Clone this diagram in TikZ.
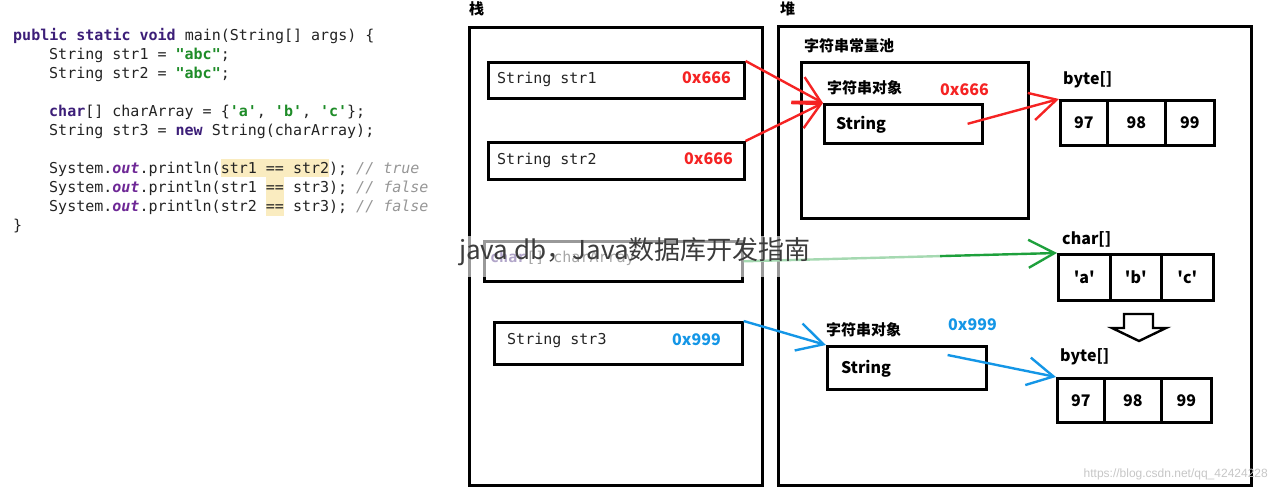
\documentclass[tikz,border=0pt]{standalone}
\usepackage{fontspec}
\setmonofont{DejaVu Sans Mono}
\newfontfamily\cjk{Noto Sans CJK SC}
\newfontfamily\urlfont{Liberation Sans}
\usepackage{tikz}
\usetikzlibrary{arrows.meta}

\definecolor{kwcol}{RGB}{60,30,120}
\definecolor{strcol}{RGB}{30,140,40}
\definecolor{fldcol}{RGB}{110,40,150}
\definecolor{cmtcol}{RGB}{150,150,150}
\definecolor{hlcol}{RGB}{250,236,192}
\definecolor{redaddr}{RGB}{245,35,35}
\definecolor{blueaddr}{RGB}{20,150,230}
\definecolor{greenref}{RGB}{30,160,60}
\definecolor{ink}{RGB}{35,35,35}

\newcommand{\javakw}[1]{\textcolor{kwcol}{\bfseries #1}}
\newcommand{\strlit}[1]{\textcolor{strcol}{\bfseries #1}}
\newcommand{\fieldout}[1]{\textcolor{fldcol}{\bfseries\itshape #1}}
\newcommand{\cmt}[1]{\textcolor{cmtcol}{\itshape #1}}

\begin{document}
\begin{tikzpicture}[x=1pt,y=-1pt,
  code/.style={anchor=base west,inner sep=0,text=ink,font=\ttfamily\fontsize{15}{18}\selectfont},
  zh/.style={anchor=west,inner sep=0,font=\cjk\bfseries\fontsize{15}{18}\selectfont},
  lbl/.style={anchor=west,inner sep=0,font=\cjk\bfseries\fontsize{16}{18}\selectfont},
  box/.style={draw,line width=2.6pt,anchor=north west,inner sep=0},
  cell/.style={box,font=\cjk\bfseries\fontsize{16}{18}\selectfont,text depth=-4pt},
  ref/.style={line width=2.4pt,-{Straight Barb[length=26pt,width=28pt]}}]
  \useasboundingbox (0,0) rectangle (1271,490);

  % code
  \fill[hlcol] (221,159) rectangle (329,177);
  \fill[hlcol] (266,177) rectangle (284,216);
  \node[code] (c1) at (13,40) {\javakw{public static void} main(String[] args) \{};
  \node[code] (c2) at (49,59) {String str1 = \strlit{"abc"};};
  \node[code] (c3) at (49,78) {String str2 = \strlit{"abc"};};
  \node[code] (c4) at (49,116) {\javakw{char}[] charArray = \{\strlit{'a'}, \strlit{'b'}, \strlit{'c'}\};};
  \node[code] (c5) at (49,135) {String str3 = \javakw{new} String(charArray);};
  \node[code] (c6) at (49,173) {System.\fieldout{out}.println(str1 == str2); \cmt{// true}};
  \node[code] (c7) at (49,192) {System.\fieldout{out}.println(str1 == str3); \cmt{// false}};
  \node[code] (c8) at (49,211) {System.\fieldout{out}.println(str2 == str3); \cmt{// false}};
  \node[code] (c9) at (13,230) {\}};

  % stack
  \node[zh] (stklbl) at (469,9) {栈};
  \node[box,minimum width=293pt,minimum height=458pt] (stack) at (468,26) {};
  \node[box,minimum width=256pt,minimum height=36pt] (str1) at (487,61) {};
  \node[code,anchor=west] (t1) at (497,79) {String str1};
  \node[lbl,text=redaddr] (a1) at (682,78) {0x666};
  \node[box,minimum width=256pt,minimum height=37pt] (str2) at (487,141) {};
  \node[code,anchor=west] (t2) at (497,160) {String str2};
  \node[lbl,text=redaddr] (a2) at (684,159) {0x666};
  \node[box,minimum width=258pt,minimum height=40pt] (chararr) at (483,240) {};
  \node[code,anchor=west] (t3) at (490,258) {\javakw{char}[] charArray};
  \node[box,minimum width=248pt,minimum height=42pt] (str3) at (493,321) {};
  \node[code,anchor=west] (t4) at (507,340) {String str3};
  \node[lbl,text=blueaddr] (a3) at (672,340) {0x999};

  % heap
  \node[zh] (heaplbl) at (780,9) {堆};
  \node[box,minimum width=473pt,minimum height=459pt] (heap) at (777,25) {};
  \node[zh] (poollbl) at (804,46) {字符串常量池};
  \node[box,minimum width=227pt,minimum height=156pt] (pool) at (800,61) {};
  \node[zh] (obj1) at (827,88) {字符串对象};
  \node[lbl,text=redaddr] (a4) at (940,90) {0x666};
  \node[box,minimum width=158pt,minimum height=39pt] (poolstr) at (823,103) {};
  \node[lbl] (s1) at (836,125) {String};
  \node[zh] (obj2) at (826,330) {字符串对象};
  \node[lbl,text=blueaddr] (a5) at (948,325) {0x999};
  \node[box,minimum width=159pt,minimum height=43pt] (strobj) at (826,345) {};
  \node[lbl] (s2) at (841,369) {String};

  % arrays
  \node[lbl] (bytes1) at (1063,80) {byte[]};
  \node[cell,minimum width=47pt,minimum height=45pt] (ba1) at (1059,99) {97};
  \node[cell,minimum width=58pt,minimum height=45pt] (ba2) at (1106,99) {98};
  \node[cell,minimum width=49pt,minimum height=45pt] (ba3) at (1164,99) {99};
  \node[lbl] (chars) at (1062,239) {char[]};
  \node[cell,minimum width=52pt,minimum height=46pt] (ca1) at (1057,253) {\textquotesingle a\textquotesingle};
  \node[cell,minimum width=51pt,minimum height=46pt] (ca2) at (1109,253) {\textquotesingle b\textquotesingle};
  \node[cell,minimum width=52pt,minimum height=46pt] (ca3) at (1160,253) {\textquotesingle c\textquotesingle};
  \draw[line width=2.4pt,fill=white] (1124,314) -- (1153,314) -- (1153,328) -- (1166,328)
    -- (1139,341) -- (1112,328) -- (1124,328) -- cycle;
  \node[lbl] (bytes2) at (1060,357) {byte[]};
  \node[cell,minimum width=47pt,minimum height=44pt] (bb1) at (1056,377) {97};
  \node[cell,minimum width=57pt,minimum height=44pt] (bb2) at (1103,377) {98};
  \node[cell,minimum width=50pt,minimum height=44pt] (bb3) at (1160,377) {99};

  % references
  \draw[ref,redaddr] (str1.north east) -- (poolstr.north west);
  \draw[ref,redaddr] (str2.north east) -- (poolstr.north west);
  \draw[ref,redaddr] ([xshift=-16pt]poolstr.east) -- (ba1.north west);
  \draw[ref,greenref] (chararr.east) -- (ca1.north west);
  \draw[ref,blueaddr] (str3.north east) -- (strobj.north west);
  \draw[ref,blueaddr] ([xshift=-40pt,yshift=-10pt]strobj.north east) -- (bb1.north west);

  % watermarks
  \fill[white,opacity=0.6] (456,236) rectangle (940,277);
  \node[anchor=west,inner sep=0,text={rgb,255:red,60;green,60;blue,60},font=\cjk\fontsize{26}{28}\selectfont] (wm) at (459,252) {java db，Java数据库开发指南};
  \node[anchor=east,inner sep=0,text=gray!45,font=\urlfont\fontsize{12}{14}\selectfont] (url) at (1268,474) {https://blog.csdn.net/qq\_42424228};
\end{tikzpicture}
\end{document}
